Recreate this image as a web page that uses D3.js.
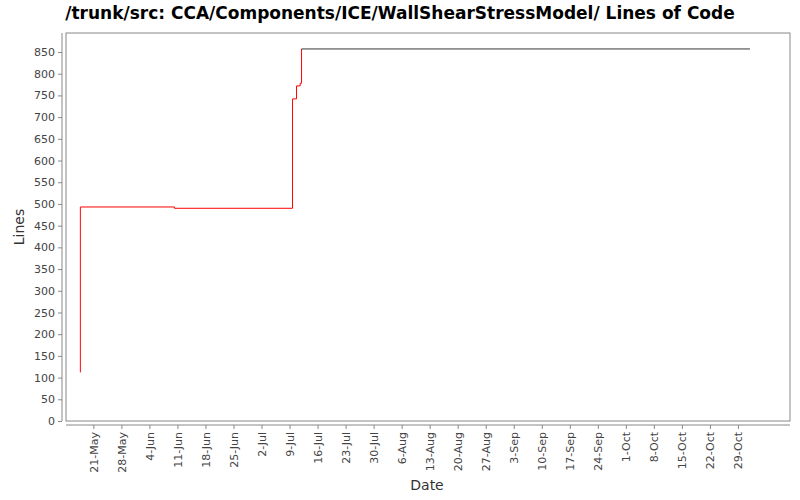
<!DOCTYPE html>
<html><head><meta charset="utf-8">
<script src="https://cdn.jsdelivr.net/npm/d3@7"></script>
<style>body{margin:0;background:#fff}text{font-family:"DejaVu Sans",sans-serif}</style>
</head><body><svg id="c" width="800" height="500"></svg>
<script>
// step data
var dates = ["2007-05-17T18:00Z", "2007-06-10T06:00Z", "2007-07-09T18:00Z", "2007-07-10T18:00Z", "2007-07-11T16:00Z", "2007-07-12T00:00Z"];
var lines = [112, 493, 490, 742, 772, 778, 857];
var endDate = "2007-11-01T00:00Z";
var yTicks = d3.range(0, 851, 50);

var parse = d3.isoParse;
var svg = d3.select("#c");
var pLeft = 66, pRight = 790, pTop = 33, pBottom = 421;

var x = d3.scaleUtc().domain([parse("2007-05-14T04:00Z"), parse("2007-11-11T00:00Z")]).range([pLeft, pRight]);
var y = d3.scaleLinear().domain([0, 850]).range([421, 52]);

svg.append("text").attr("x", 400).attr("y", 19).attr("text-anchor", "middle")
  .attr("font-size", 17).attr("font-weight", "bold")
  .text("/trunk/src: CCA/Components/ICE/WallShearStressModel/ Lines of Code");

svg.append("rect").attr("x", pLeft).attr("y", pTop).attr("width", pRight - pLeft).attr("height", pBottom - pTop)
  .attr("fill", "#fff").attr("stroke", "#888");

// y axis
var ya = svg.append("g").attr("transform", "translate(" + (pLeft - 4) + ",0)")
  .call(d3.axisLeft(y).tickValues(yTicks).tickSize(4).tickSizeOuter(0));
ya.select(".domain").attr("stroke", "#888").attr("d", "M0," + pTop + "V" + pBottom);
ya.selectAll("line").attr("stroke", "#888");
ya.selectAll("text").attr("font-size", 11).attr("fill", "#444");

// x axis, weekly ticks from 21-May
var xt = d3.utcDay.range(parse("2007-05-21T00:00Z"), parse("2007-11-01T00:00Z"), 7);
var xa = svg.append("g").attr("transform", "translate(0," + (pBottom + 4) + ")")
  .call(d3.axisBottom(x).tickValues(xt).tickFormat(d3.utcFormat("%-d-%b")).tickSize(4).tickSizeOuter(0));
xa.select(".domain").attr("stroke", "#888").attr("d", "M" + pLeft + ",0H" + pRight);
xa.selectAll("line").attr("stroke", "#888");
xa.selectAll("text").attr("font-size", 11).attr("fill", "#444")
  .attr("transform", "rotate(-90)").attr("text-anchor", "end")
  .attr("x", -7).attr("y", 0).attr("dy", "0.35em");

svg.append("text").attr("x", 427).attr("y", 490).attr("text-anchor", "middle").attr("font-size", 14).attr("fill", "#333").text("Date");
svg.append("text").attr("transform", "translate(24,227) rotate(-90)").attr("text-anchor", "middle").attr("font-size", 14).attr("fill", "#333").text("Lines");

var pts = [];
dates.forEach(function (d, i) {
  if (i === 0) pts.push([x(parse(d)), y(lines[0])]);
  pts.push([x(parse(d)), y(lines[i])]);
  pts.push([x(parse(d)), y(lines[i + 1])]);
});
svg.append("path").attr("d", d3.line()(pts)).attr("fill", "none").attr("stroke", "red").attr("stroke-width", 1);
var last = parse(dates[dates.length - 1]);
svg.append("path").attr("d", d3.line()([[x(last), y(lines[lines.length - 1])], [x(parse(endDate)), y(lines[lines.length - 1])]]))
  .attr("fill", "none").attr("stroke", "#000").attr("stroke-width", 0.8);
</script></body></html>
